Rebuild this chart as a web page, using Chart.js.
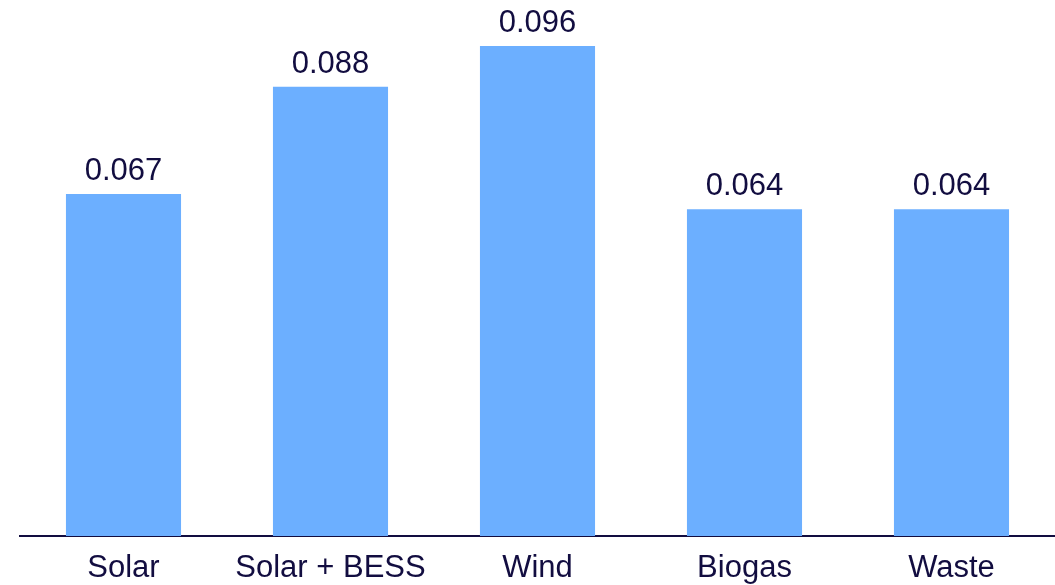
<!DOCTYPE html>
<html>
<head>
<meta charset="utf-8">
<script src="https://cdn.jsdelivr.net/npm/chart.js@4"></script>
<style>
  html, body { margin: 0; padding: 0; background: #ffffff; }
  #wrap { width: 1055px; height: 585px; }
</style>
</head>
<body>
<div id="wrap"><canvas id="barChart" width="1055" height="585"></canvas></div>
<script>
const categories = ['Solar', 'Solar + BESS', 'Wind', 'Biogas', 'Waste'];
const values = [0.067, 0.088, 0.096, 0.064, 0.064];

const textColor = '#120d40';
const barColor = '#6cafff';

Chart.defaults.font.family = "'Liberation Sans', Arial, sans-serif";
Chart.defaults.font.size = 31;
Chart.defaults.color = textColor;

// value labels above bars
const valueLabels = {
  id: 'valueLabels',
  afterDatasetsDraw(chart) {
    const ctx = chart.ctx;
    const meta = chart.getDatasetMeta(0);
    ctx.save();
    ctx.font = "31px 'Liberation Sans', Arial, sans-serif";
    ctx.fillStyle = textColor;
    ctx.textAlign = 'center';
    ctx.textBaseline = 'alphabetic';
    meta.data.forEach((bar, i) => {
      ctx.fillText(values[i].toFixed(3), bar.x, bar.y - 14);
    });
    ctx.restore();
  }
};

new Chart(document.getElementById('barChart'), {
  type: 'bar',
  data: {
    labels: categories,
    datasets: [{
      data: values,
      backgroundColor: barColor,
      barPercentage: 0.556,
      categoryPercentage: 1,
    }]
  },
  options: {
    responsive: false,
    animation: false,
    layout: { padding: { left: 20, right: 0, top: 0, bottom: 0 } },
    plugins: { legend: { display: false }, tooltip: { enabled: false } },
    scales: {
      x: {
        grid: { display: false, drawTicks: false },
        border: { display: true, color: textColor, width: 2 },
        ticks: { color: textColor, padding: 14, maxRotation: 0, autoSkip: false },
        afterFit: s => { s.height = 49; }
      },
      y: {
        display: false,
        min: 0,
        max: 0.105
      }
    }
  },
  plugins: [valueLabels]
});
</script>
</body>
</html>
